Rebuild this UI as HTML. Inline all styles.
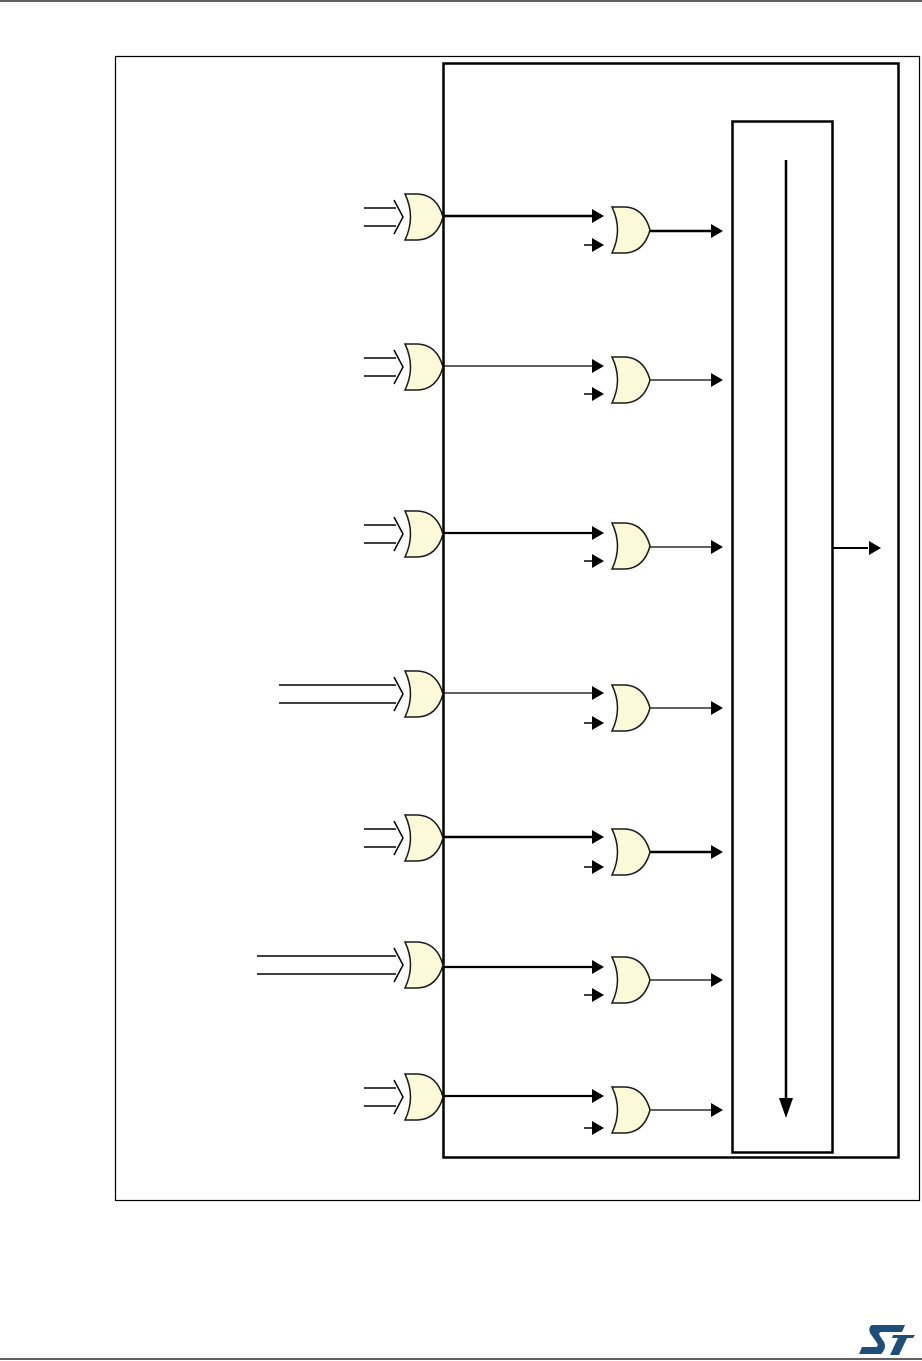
<!DOCTYPE html>
<html><head><meta charset="utf-8"><style>html,body{margin:0;padding:0;background:#fff}svg{display:block}</style></head>
<body>
<svg width="922" height="1361" viewBox="0 0 922 1361" xmlns="http://www.w3.org/2000/svg">
<defs>
<path id="g" d="M2,-23 L15,-23 Q34,-22 40,0 Q34,22 15,23 L2,23 Q13,0 2,-23 Z" fill="#fcf9d9" stroke="#1a1a1a" stroke-width="1.5"/>
<path id="ah" d="M-12,-7 L0,0 L-12,7 Z" fill="#000"/>
</defs>
<line x1="0" y1="1" x2="922" y2="1" stroke="#000" stroke-width="1.2"/>
<line x1="0" y1="1359" x2="922" y2="1359" stroke="#000" stroke-width="1.2"/>
<rect x="115.5" y="56.5" width="804" height="1144" fill="none" stroke="#000" stroke-width="1.2"/>
<rect x="443.5" y="63.5" width="455" height="1094" fill="none" stroke="#000" stroke-width="2.5"/>
<rect x="732.5" y="121.5" width="100" height="1031" fill="none" stroke="#000" stroke-width="2.5"/>
<line x1="786" y1="160" x2="786" y2="1100" stroke="#000" stroke-width="2.5"/>
<path d="M779,1098 L786,1118 L793,1098 Z" fill="#000"/>
<line x1="833" y1="548" x2="868" y2="548" stroke="#000" stroke-width="2"/>
<use href="#ah" x="881" y="548"/>

<g stroke="#000" fill="none">
<path d="M364,208 H396 M364,226 H396 M394,200 L403,217 L394,234" stroke-width="1.5"/>
<path d="M364,358 H396 M364,376 H396 M394,350 L403,367 L394,384" stroke-width="1.5"/>
<path d="M364,525 H396 M364,543 H396 M394,517 L403,534 L394,551" stroke-width="1.5"/>
<path d="M279,685 H396 M279,703 H396 M394,677 L403,694 L394,711" stroke-width="1.5"/>
<path d="M364,829 H396 M364,847 H396 M394,821 L403,838 L394,855" stroke-width="1.5"/>
<path d="M257,956 H396 M257,974 H396 M394,948 L403,965 L394,982" stroke-width="1.5"/>
<path d="M364,1088 H396 M364,1106 H396 M394,1080 L403,1097 L394,1114" stroke-width="1.5"/>
</g>
<use href="#g" x="403" y="217"/><use href="#g" x="403" y="367"/><use href="#g" x="403" y="534"/>
<use href="#g" x="403" y="694"/><use href="#g" x="403" y="838"/><use href="#g" x="403" y="965"/><use href="#g" x="403" y="1097"/>

<g stroke="#000" fill="none">
<path d="M443,216 H592 M650,231 H712" stroke-width="2.5"/>
<path d="M443,366 H592 M650,380 H712" stroke-width="1.2"/>
<path d="M443,533 H592" stroke-width="2.3"/><path d="M650,547 H712" stroke-width="1.2"/>
<path d="M443,693 H592 M650,708 H712" stroke-width="1.2"/>
<path d="M443,837 H592 M650,852 H712" stroke-width="2.5"/>
<path d="M443,967 H592" stroke-width="2.3"/><path d="M650,980 H712" stroke-width="1.2"/>
<path d="M443,1096 H592" stroke-width="2.3"/><path d="M650,1110 H712" stroke-width="1.2"/>
<path d="M584,245 H592 M584,394 H592 M584,561 H592 M584,723 H592 M584,867 H592 M584,995 H592 M584,1128 H592" stroke-width="1.5"/>
</g>
<g>
<use href="#ah" x="604" y="216"/><use href="#ah" x="604" y="245"/><use href="#ah" x="723" y="231"/>
<use href="#ah" x="604" y="366"/><use href="#ah" x="604" y="394"/><use href="#ah" x="723" y="380"/>
<use href="#ah" x="604" y="533"/><use href="#ah" x="604" y="561"/><use href="#ah" x="723" y="547"/>
<use href="#ah" x="604" y="693"/><use href="#ah" x="604" y="723"/><use href="#ah" x="723" y="708"/>
<use href="#ah" x="604" y="837"/><use href="#ah" x="604" y="867"/><use href="#ah" x="723" y="852"/>
<use href="#ah" x="604" y="967"/><use href="#ah" x="604" y="995"/><use href="#ah" x="723" y="980"/>
<use href="#ah" x="604" y="1096"/><use href="#ah" x="604" y="1128"/><use href="#ah" x="723" y="1110"/>
</g>
<use href="#g" x="610" y="230"/><use href="#g" x="610" y="380"/><use href="#g" x="610" y="546"/>
<use href="#g" x="610" y="708"/><use href="#g" x="610" y="852"/><use href="#g" x="610" y="980"/><use href="#g" x="610" y="1110"/>

<g fill="#1f4e79">
<path d="M872,1325 H905 L902,1332 H881 Q878,1333 880,1336 L884,1342 Q887,1348 881,1354 H859 L862,1347 H876 Q879,1346 877,1343 L870,1333 Q868,1327 872,1325 Z"/>
<path d="M893,1335 H915 L913,1338 H907 L899,1355 H890 L898,1338 H892 Z"/>
</g>
</svg>
</body></html>
